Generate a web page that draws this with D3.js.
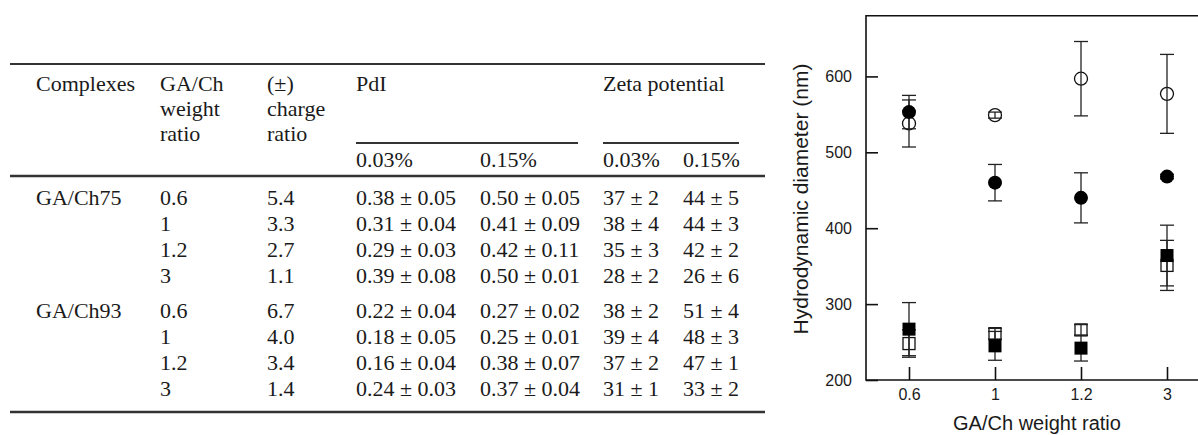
<!DOCTYPE html>
<html>
<head>
<meta charset="utf-8">
<script src="https://cdn.jsdelivr.net/npm/d3@7/dist/d3.min.js"></script>
<style>
  html, body { margin: 0; padding: 0; background: #fff; }
  svg { display: block; }
</style>
</head>
<body>
<svg id="fig" width="1198" height="435"></svg>
<script>
// ---------- Table data ----------
const complexes = ["GA/Ch75", "GA/Ch93"];
const weightRatios = ["0.6", "1", "1.2", "3"];
const chargeRatio75 = ["5.4", "3.3", "2.7", "1.1"];
const chargeRatio93 = ["6.7", "4.0", "3.4", "1.4"];
const pdi003_75 = ["0.38 ± 0.05", "0.31 ± 0.04", "0.29 ± 0.03", "0.39 ± 0.08"];
const pdi015_75 = ["0.50 ± 0.05", "0.41 ± 0.09", "0.42 ± 0.11", "0.50 ± 0.01"];
const zeta003_75 = ["37 ± 2", "38 ± 4", "35 ± 3", "28 ± 2"];
const zeta015_75 = ["44 ± 5", "44 ± 3", "42 ± 2", "26 ± 6"];
const pdi003_93 = ["0.22 ± 0.04", "0.18 ± 0.05", "0.16 ± 0.04", "0.24 ± 0.03"];
const pdi015_93 = ["0.27 ± 0.02", "0.25 ± 0.01", "0.38 ± 0.07", "0.37 ± 0.04"];
const zeta003_93 = ["38 ± 2", "39 ± 4", "37 ± 2", "31 ± 1"];
const zeta015_93 = ["51 ± 4", "48 ± 3", "47 ± 1", "33 ± 2"];
const headerCols = [["Complexes"], ["GA/Ch", "weight", "ratio"], ["(±)", "charge", "ratio"], ["PdI"], [], ["Zeta potential"], []];
const subHeaders = ["0.03%", "0.15%", "0.03%", "0.15%"];

// ---------- Chart data ----------
const xCategories = ["0.6", "1", "1.2", "3"];
const yTicks = [200, 300, 400, 500, 600];
const openCircle = [538, 549, 597, 577];
const openCircleErr = [31, 4, 49, 52];
const filledCircle = [553, 460, 440, 468];
const filledCircleErr = [22, 24, 33, 3];
const openSquare = [248, 261, 266, 351];
const openSquareErr = [18, 7, 7, 33];
const filledSquare = [267, 245, 242, 364];
const filledSquareErr = [35, 19, 17, 40];

(function () {
const svg = d3.select("#fig");

// ================= TABLE =================
const T = svg.append("g").attr("font-family", "'Liberation Serif', serif").attr("font-size", 22).attr("fill", "#1a1a1a");
const colX = [36, 160, 267, 356, 480, 603, 683];
const ruleColor = "#333";

function rule(x1, x2, yy, w) {
  T.append("line").attr("x1", x1).attr("x2", x2).attr("y1", yy).attr("y2", yy)
    .attr("stroke", ruleColor).attr("stroke-width", w);
}
rule(10, 765, 64, 2.2);
headerCols.forEach((lines, ci) => {
  lines.forEach((t, li) => {
    T.append("text").attr("x", colX[ci]).attr("y", 83 + li * 25).attr("dy", "0.35em").text(t);
  });
});
rule(356, 578, 143, 2.2);
rule(603, 739, 143, 2.2);
subHeaders.forEach((t, i) => {
  T.append("text").attr("x", colX[3 + i]).attr("y", 159).attr("dy", "0.35em").text(t);
});
rule(10, 765, 176, 2.6);

const groups = [
  { name: complexes[0], y0: 197, cols: [weightRatios, chargeRatio75, pdi003_75, pdi015_75, zeta003_75, zeta015_75] },
  { name: complexes[1], y0: 310, cols: [weightRatios, chargeRatio93, pdi003_93, pdi015_93, zeta003_93, zeta015_93] }
];
groups.forEach(g => {
  T.append("text").attr("x", colX[0]).attr("y", g.y0).attr("dy", "0.35em").text(g.name);
  g.cols.forEach((col, ci) => {
    col.forEach((t, ri) => {
      T.append("text").attr("x", colX[ci + 1]).attr("y", g.y0 + ri * 26).attr("dy", "0.35em").text(t);
    });
  });
});
rule(10, 765, 412, 2.6);

// ================= CHART =================
const C = svg.append("g");
const pLeft = 866, pTop = 15.7, pBottom = 380, pRight = 1210;
const x = d3.scalePoint().domain(xCategories).range([pLeft, pRight]).padding(0.5);
const y = d3.scaleLinear().domain([200, 680]).range([pBottom, pTop]);

// frame
C.append("path")
  .attr("d", `M${pRight},${pTop}H${pLeft}V${pBottom}H${pRight}`)
  .attr("fill", "none").attr("stroke", "#111").attr("stroke-width", 1.6);

// y axis
const yAxis = d3.axisLeft(y).tickValues(yTicks).tickSize(-12).tickPadding(14).tickFormat(d3.format("d"));
const gy = C.append("g").attr("transform", `translate(${pLeft},0)`).call(yAxis);
gy.select(".domain").remove();
gy.selectAll(".tick line").attr("stroke", "#111").attr("stroke-width", 1.6);
gy.selectAll(".tick text").attr("font-family", "'Liberation Sans', Arial, sans-serif").attr("font-size", 16).attr("fill", "#1a1a1a");

// x axis
const xAxis = d3.axisBottom(x).tickSize(-13).tickPadding(9);
const gx = C.append("g").attr("transform", `translate(0,${pBottom})`).call(xAxis);
gx.select(".domain").remove();
gx.selectAll(".tick line").attr("stroke", "#111").attr("stroke-width", 1.6);
gx.selectAll(".tick text").attr("font-family", "'Liberation Sans', Arial, sans-serif").attr("font-size", 16).attr("fill", "#1a1a1a");

// axis titles
C.append("text").attr("x", 1037).attr("y", 430).attr("text-anchor", "middle")
  .attr("font-family", "'Liberation Sans', Arial, sans-serif").attr("font-size", 20).attr("fill", "#1a1a1a")
  .text("GA/Ch weight ratio");
C.append("text").attr("transform", "translate(801,199) rotate(-90)").attr("dy", "0.35em").attr("text-anchor", "middle")
  .attr("font-family", "'Liberation Sans', Arial, sans-serif").attr("font-size", 21).attr("fill", "#1a1a1a")
  .text("Hydrodynamic diameter (nm)");

function seriesData(vals, errs) {
  return xCategories.map((c, i) => ({ c, v: vals[i], e: errs[i] }));
}
const series = [
  { data: seriesData(openCircle, openCircleErr), shape: "circle", filled: false },
  { data: seriesData(openSquare, openSquareErr), shape: "square", filled: false },
  { data: seriesData(filledCircle, filledCircleErr), shape: "circle", filled: true },
  { data: seriesData(filledSquare, filledSquareErr), shape: "square", filled: true }
];

function drawMarkers(s) {
  const g = C.append("g");
  if (s.shape === "circle") {
    g.selectAll("circle").data(s.data).join("circle")
      .attr("cx", d => x(d.c)).attr("cy", d => y(d.v)).attr("r", s.filled ? 7 : 6.5)
      .attr("fill", s.filled ? "#000" : "#fff").attr("stroke", "#111").attr("stroke-width", s.filled ? 0 : 1.3);
  } else {
    const h = s.filled ? 6.5 : 6;
    g.selectAll("rect").data(s.data).join("rect")
      .attr("x", d => x(d.c) - h).attr("y", d => y(d.v) - h).attr("width", 2 * h).attr("height", 2 * h)
      .attr("fill", s.filled ? "#000" : "#fff").attr("stroke", "#111").attr("stroke-width", s.filled ? 0 : 1.3);
  }
}
function drawErr(s) {
  const g = C.append("g").attr("stroke", "#222").attr("stroke-width", 1.3);
  s.data.forEach(d => {
    const cx = x(d.c), y1 = y(d.v + d.e), y2 = y(d.v - d.e);
    g.append("line").attr("x1", cx).attr("x2", cx).attr("y1", y1).attr("y2", y2);
    g.append("line").attr("x1", cx - 7).attr("x2", cx + 7).attr("y1", y1).attr("y2", y1);
    g.append("line").attr("x1", cx - 7).attr("x2", cx + 7).attr("y1", y2).attr("y2", y2);
  });
}
drawMarkers(series[0]);
drawMarkers(series[1]);
series.forEach(drawErr);
drawMarkers(series[2]);
drawMarkers(series[3]);
})();
</script>
</body>
</html>
